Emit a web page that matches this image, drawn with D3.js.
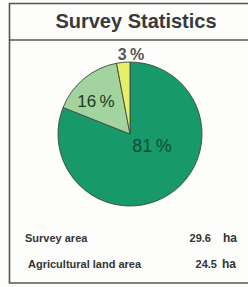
<!DOCTYPE html>
<html><head><meta charset="utf-8">
<script src="https://cdn.jsdelivr.net/npm/d3@7"></script>
<style>
html,body{margin:0;padding:0;background:#fdfdfb;}
svg{display:block;font-family:"Liberation Sans",Arial,sans-serif;}
</style></head>
<body><svg id="c" width="248" height="287"></svg>
<script>
const title = "Survey Statistics";
const categories = ["Other", "Area A", "Area B"];
const shares = [81, 16, 3];
const sliceColors = ["#17996b", "#a3d39f", "#e6ef6a"];
const labelColors = ["#0e4f33", "#1e3a22", "#555555"];
const statLabels = ["Survey area", "Agricultural land area"];
const statValues = ["29.6", "24.5"];
const statUnits = ["ha", "ha"];

const svg = d3.select("#c");
// frame
const frame = svg.append("g").attr("stroke", "#555").attr("stroke-width", 1.6).attr("fill", "none");
frame.append("path").attr("d", "M248,3.5 H9.5 V283 H248");
frame.append("line").attr("x1", 9.5).attr("x2", 248).attr("y1", 40).attr("y2", 40);

svg.append("text").attr("x", 136).attr("y", 28).attr("text-anchor", "middle")
  .attr("font-size", 20).attr("font-weight", "bold").attr("fill", "#3a3a3a").text(title);

const cx = 130, cy = 134, r = 72;
const pie = d3.pie().sort(null).value(d => d)(shares);
const arc = d3.arc().innerRadius(0).outerRadius(r);
const g = svg.append("g").attr("transform", `translate(${cx},${cy})`);
g.selectAll("path").data(pie).join("path")
  .attr("d", arc).attr("fill", (d, i) => sliceColors[i])
  .attr("stroke", "#3d4a3a").attr("stroke-width", 0.9);

const labelPos = [[22, 18], [-34, -27], [1, -74]];
const labelSize = [18, 17, 16];
g.selectAll("text").data(pie).join("text")
  .attr("x", (d, i) => labelPos[i][0]).attr("y", (d, i) => labelPos[i][1])
  .attr("text-anchor", "middle").attr("font-size", (d, i) => labelSize[i])
  .attr("font-weight", (d, i) => i === 2 ? "bold" : "normal")
  .attr("fill", (d, i) => labelColors[i])
  .text(d => d.data + "\u2009%");

const rows = svg.append("g").attr("font-size", 11).attr("font-weight", "bold").attr("fill", "#333");
const rowY = [242, 268];
const labX = [25, 28];
const valX = [211, 217];
statLabels.forEach((s, i) => {
  rows.append("text").attr("x", labX[i]).attr("y", rowY[i]).text(s);
  rows.append("text").attr("x", valX[i]).attr("y", rowY[i]).attr("text-anchor", "end").text(statValues[i]);
  rows.append("text").attr("x", i === 0 ? 223 : 222).attr("y", rowY[i]).attr("font-size", 12).text(statUnits[i]);
});
</script></body></html>
